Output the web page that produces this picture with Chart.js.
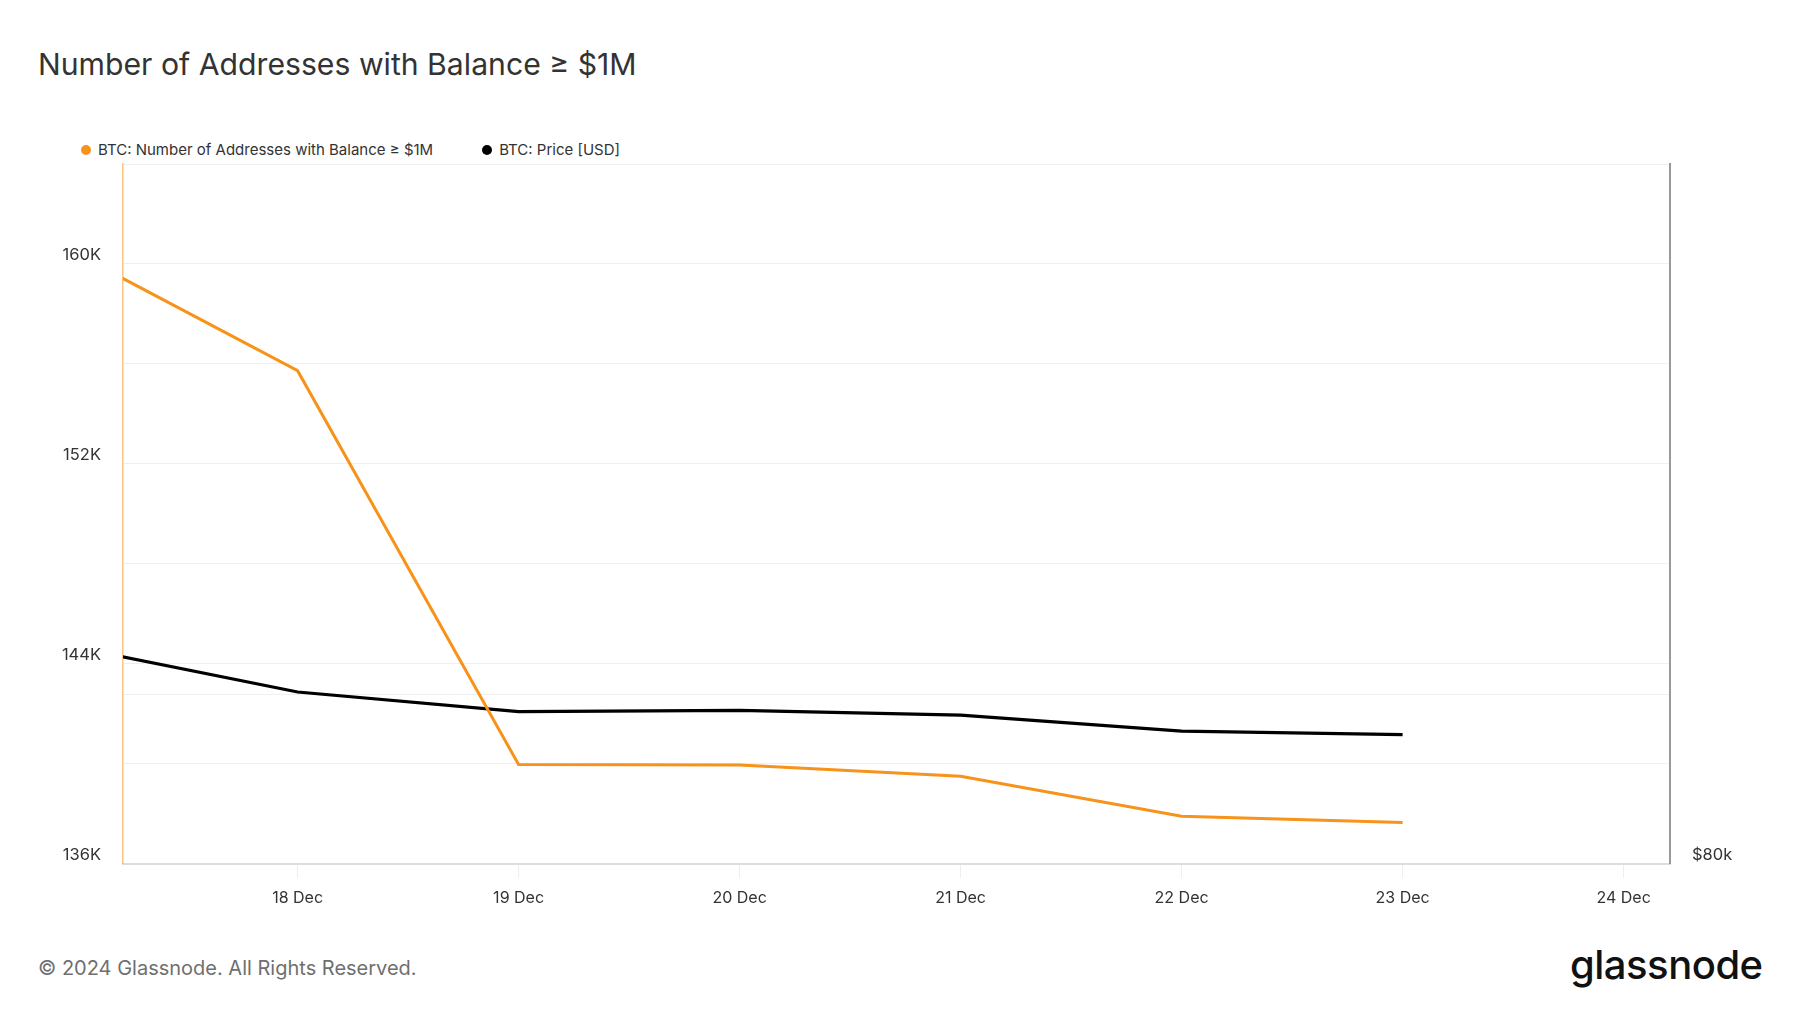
<!DOCTYPE html>
<html>
<head>
<meta charset="utf-8">
<script src="https://cdn.jsdelivr.net/npm/chart.js@4.4.1/dist/chart.umd.min.js"></script>
<style>
  html, body { margin: 0; padding: 0; background: #fff; }
  body { width: 1800px; height: 1013px; position: relative; overflow: hidden; font-family: Inter, "Noto Sans", sans-serif; }
  #title { position: absolute; left: 38px; top: 44px; font-size: 30.2px; color: #333; line-height: 40px; }
  #legend { position: absolute; left: 81px; top: 141px; display: flex; font-size: 15px; color: #333; line-height: 18px; }
  #legend .item { display: flex; align-items: center; }
  #legend .item + .item { margin-left: 49px; }
  #legend .dot { width: 10px; height: 10px; border-radius: 50%; margin-right: 7px; }
  #wrap { position: absolute; left: 0; top: 110px; width: 1800px; height: 809px; }
  #footer { position: absolute; left: 38px; top: 955px; font-size: 20px; color: #6f6f6f; line-height: 26px; }
  #logo { position: absolute; left: 1570px; top: 940px; font-size: 40px; font-weight: 500; color: #111; letter-spacing: -0.5px; line-height: 50px; }
</style>
</head>
<body>
<div id="title">Number of Addresses with Balance ≥ $1M</div>
<div id="legend"></div>
<div id="wrap"><canvas id="chart"></canvas></div>
<div id="footer">© 2024 Glassnode. All Rights Reserved.</div>
<div id="logo">glassnode</div>
<script>
// daily points, day of December
const days = [17, 18, 19, 20, 21, 22, 23];
const addresses = [160400, 155730, 139970, 139950, 139500, 137900, 137650];
const price = [105500, 100270, 97950, 98100, 97550, 95660, 95240];

const dayTicks = [18, 19, 20, 21, 22, 23, 24];
const addrTicks = [136000, 140000, 144000, 148000, 152000, 156000, 160000, 164000];
const addrLabeled = [136000, 144000, 152000, 160000];
const priceTicks = [80000, 100000];
const priceLabeled = [80000];

Chart.defaults.font.family = 'Inter, "Noto Sans", sans-serif';
Chart.defaults.color = '#333';

function toXY(ys) {
  return days.map(function (d, i) { return { x: d, y: ys[i] }; });
}

const chart = new Chart(document.getElementById('chart'), {
  type: 'line',
  data: {
    datasets: [
      {
        label: 'BTC: Number of Addresses with Balance ≥ $1M',
        data: toXY(addresses),
        borderColor: '#f7931a',
        backgroundColor: '#f7931a',
        borderWidth: 3,
        pointRadius: 0,
        tension: 0,
        clip: 0,
        yAxisID: 'y'
      },
      {
        label: 'BTC: Price [USD]',
        data: toXY(price),
        borderColor: '#000',
        backgroundColor: '#000',
        borderWidth: 3.2,
        pointRadius: 0,
        tension: 0,
        clip: 0,
        yAxisID: 'y1'
      }
    ]
  },
  options: {
    responsive: true,
    maintainAspectRatio: false,
    animation: false,
    layout: { padding: { top: 54, bottom: 0, left: 0, right: 0 } },
    plugins: {
      legend: { display: false },
      tooltip: { enabled: false }
    },
    scales: {
      x: {
        type: 'linear',
        min: 17.21,
        max: 24.21,
        afterBuildTicks: function (s) { s.ticks = dayTicks.map(function (v) { return { value: v }; }); },
        ticks: {
          font: { size: 16 },
          color: '#333',
          padding: 11,
          maxRotation: 0,
          callback: function (v) { return v + ' Dec'; }
        },
        grid: { drawOnChartArea: false, drawTicks: true, tickLength: 14, color: '#eeeeee' },
        border: { display: true, color: '#dddddd', width: 2 }
      },
      y: {
        position: 'left',
        min: 136000,
        max: 164000,
        afterBuildTicks: function (s) { s.ticks = addrTicks.map(function (v) { return { value: v }; }); },
        afterFit: function (s) { s.width = 123; },
        ticks: {
          font: { size: 16.5 },
          color: '#333',
          padding: 22,
          labelOffset: -9,
          callback: function (v) { return addrLabeled.indexOf(v) >= 0 ? (v / 1000) + 'K' : ''; }
        },
        grid: { color: '#efefef', drawTicks: false },
        border: { display: true, color: 'rgba(247,147,26,0.55)', width: 1.5 }
      },
      y1: {
        position: 'right',
        min: 80000,
        max: 162560,
        afterBuildTicks: function (s) { s.ticks = priceTicks.map(function (v) { return { value: v }; }); },
        afterFit: function (s) { s.width = 130; },
        ticks: {
          font: { size: 16.5 },
          color: '#333',
          padding: 22,
          labelOffset: -9,
          callback: function (v) { return priceLabeled.indexOf(v) >= 0 ? '$' + (v / 1000) + 'k' : ''; }
        },
        grid: { color: '#efefef', drawTicks: false },
        border: { display: true, color: '#999999', width: 2 }
      }
    }
  }
});

// legend from the datasets
const legend = document.getElementById('legend');
chart.data.datasets.forEach(function (ds) {
  const item = document.createElement('div');
  item.className = 'item';
  const dot = document.createElement('span');
  dot.className = 'dot';
  dot.style.background = ds.borderColor;
  item.appendChild(dot);
  item.appendChild(document.createTextNode(ds.label));
  legend.appendChild(item);
});
</script>
</body>
</html>
